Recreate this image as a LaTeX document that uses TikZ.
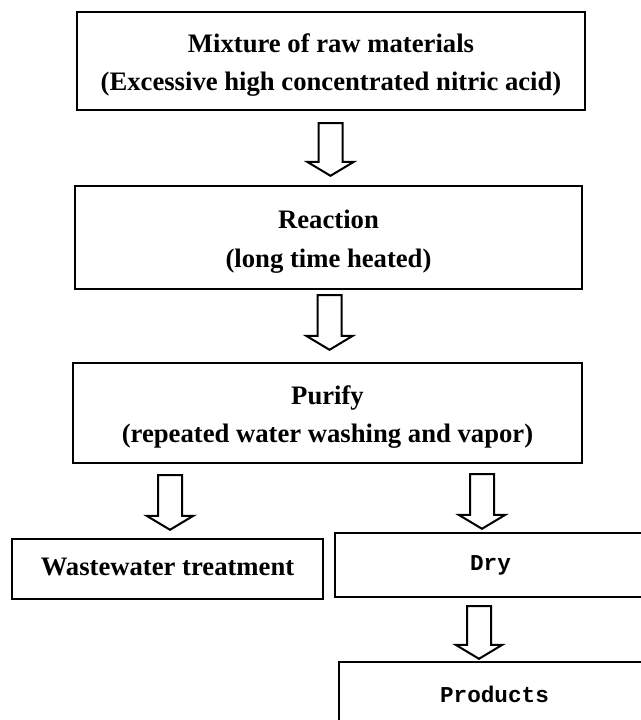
\documentclass[tikz,border=0pt]{standalone}
\usepackage{fontspec}
\setmainfont{Liberation Serif}
\newfontfamily\drymono{Liberation Mono}
\usetikzlibrary{calc}
\tikzset{
  stage/.style={draw, rectangle, line width=1.8pt, inner sep=0pt, align=center,
    font=\fontsize{20}{29}\selectfont\bfseries},
  sidebox/.style={stage, minimum width=233.25pt},
  monobox/.style={sidebox, minimum height=48pt,
    font=\drymono\fontsize{17}{20}\selectfont\bfseries},
  blockarrow/.style={draw, line width=1.5pt, line join=miter},
}
\newcommand{\topstrut}{\rule{0pt}{20pt}}
\newcommand{\flowarrow}[2]{%
  \draw[blockarrow] let \p1=(#1), \p2=(#2) in
    (\x1-9pt,\y1) -- (\x1-9pt,\y2+10.5pt) -- (\x1-17.5pt,\y2+10.5pt)
    -- (\x1,\y2) -- (\x1+17.5pt,\y2+10.5pt) -- (\x1+9pt,\y2+10.5pt)
    -- (\x1+9pt,\y1) -- cycle;}
\begin{document}
\begin{tikzpicture}[x=0.75pt, y=-0.75pt]
  \useasboundingbox (0,0) rectangle (641,720);
  \clip (0,0) rectangle (641,720);
  % process stages
  \node[stage, minimum width=381pt, minimum height=73.5pt] (mix) at (331,61)
    {\topstrut Mixture of raw materials\\(Excessive high concentrated nitric acid)};
  \node[stage, minimum width=380.25pt, minimum height=77.25pt] (react) at (328.5,237.5)
    {\topstrut Reaction\\(long time heated)};
  \node[stage, minimum width=381.75pt, minimum height=75pt] (purify) at (327.5,413)
    {\topstrut Purify\\(repeated water washing and vapor)};
  \node[sidebox, minimum height=45pt, text depth=4pt] (waste) at (167.5,569)
    {Wastewater treatment};
  \node[monobox] (dry) at (490.5,565) {Dry};
  \node[monobox] (prod) at (494.5,694) {Products};
  % block arrows
  \flowarrow{$(mix.south)+(-0.5,12)$}{$(react.north)+(0,-9)$}
  \flowarrow{$(react.south)+(1,5)$}{$(purify.north)+(0,-12)$}
  \flowarrow{$(purify.south -| waste.north)+(2.5,11)$}{$(waste.north)+(0,-8)$}
  \flowarrow{$(purify.south -| dry.north)+(-8.5,10)$}{$(dry.north)+(0,-3)$}
  \flowarrow{$(dry.south)+(-11.5,8)$}{$(prod.north)+(0,-2)$}
\end{tikzpicture}
\end{document}
